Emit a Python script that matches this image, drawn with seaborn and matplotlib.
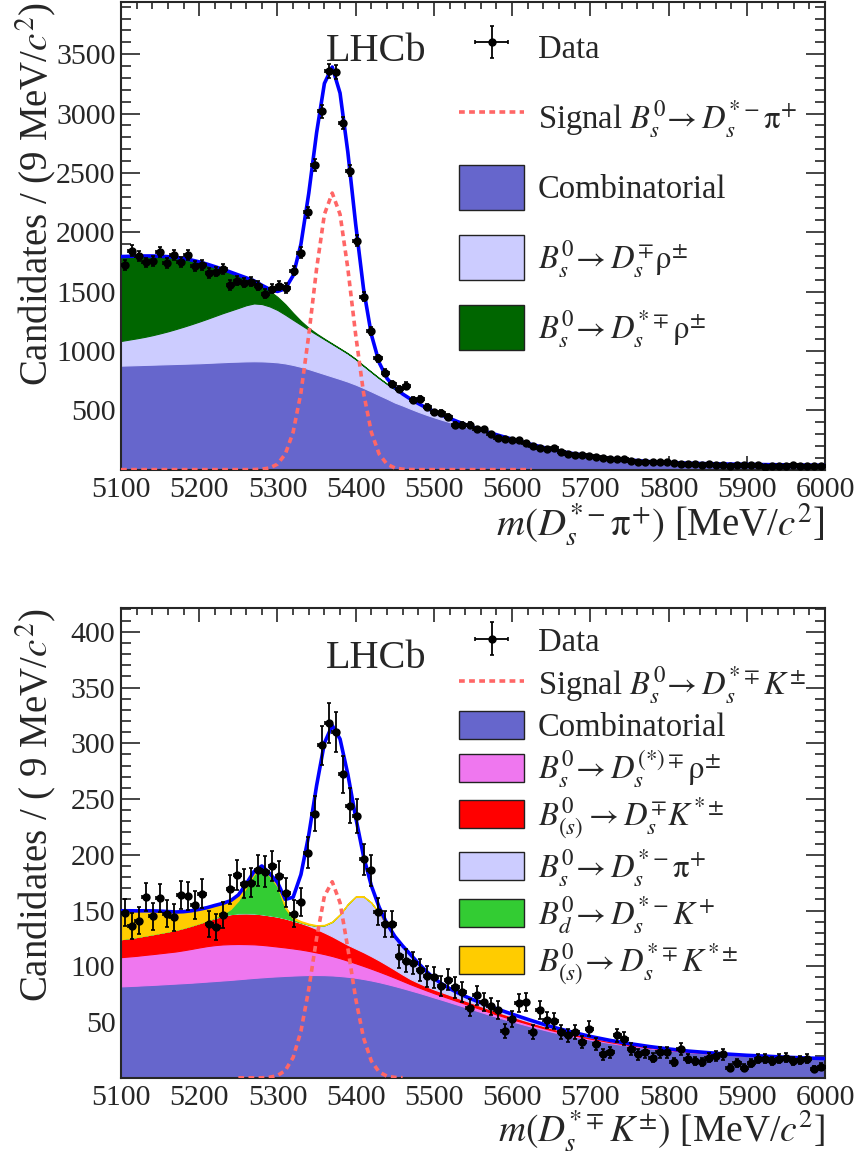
import numpy as np
import matplotlib
matplotlib.use("Agg")
import matplotlib.pyplot as plt
import seaborn as sns
from matplotlib.patches import Patch
from matplotlib.lines import Line2D
from matplotlib.ticker import MultipleLocator

# 9 MeV bins, 5100-6000
bin_centres = np.arange(5104.5, 6000, 9)

top_counts = [1725, 1846, 1801, 1745, 1756, 1832, 1740, 1810, 1753, 1810,
              1719, 1725, 1655, 1669, 1689, 1556, 1593, 1576, 1584, 1551,
              1481, 1525, 1551, 1529, 1677, 1829, 2170, 2563, 3018, 3361,
              3347, 2920, 2520, 1930, 1458, 1171, 938, 817, 722, 677,
              708, 587, 595, 530, 483, 480, 446, 379, 379, 379,
              340, 340, 300, 264, 258, 250, 250, 222, 196, 180,
              174, 180, 151, 129, 123, 123, 115, 109, 95, 87,
              89, 89, 75, 62, 62, 62, 67, 64, 53, 48,
              48, 45, 42, 45, 42, 42, 31, 36, 36, 42,
              42, 25, 31, 31, 34, 36, 31, 28, 28, 28]

bot_counts = [148, 136, 141, 162, 145, 161, 147, 144, 164, 163,
              155, 165, 138, 135, 146, 169, 182, 174, 175, 186,
              185, 190, 181, 166, 147, 158, 202, 237, 298, 318,
              310, 272, 244, 235, 196, 186, 149, 138, 138, 109,
              105, 103, 97, 91, 90, 82, 88, 81, 77, 63,
              74, 68, 64, 61, 42, 53, 67, 68, 41, 61,
              52, 51, 41, 38, 41, 32, 44, 30, 21, 23,
              38, 35, 26, 21, 23, 18, 23, 23, 14, 26,
              17, 15, 14, 18, 20, 21, 9, 13, 9, 13,
              17, 17, 15, 17, 18, 15, 16, 17, 8, 10]

# fit curves: 10 MeV steps up to 5590, then 25 MeV steps
fit_mass = list(range(5100, 5600, 10)) + list(range(5600, 6001, 25))

# --- top panel components ---
top_comb = [876, 878, 880, 882, 884, 886, 888, 890, 892, 894,
            896, 899, 902, 905, 908, 910, 912, 913, 912, 909,
            904, 895, 882, 866, 847, 826, 805, 784, 763, 741,
            716, 688, 658, 627, 597, 565, 540, 513, 487, 463,
            441, 420, 400, 380, 361, 342, 322, 302, 283, 265,
            247, 205, 165, 134, 111, 93, 79, 67, 59, 53, 49, 46, 43, 41, 39, 37, 35]
top_dsrho = [208, 217, 226, 236, 248, 262, 277, 294, 312, 331,
             351, 371, 392, 413, 432, 452, 473, 487, 483, 466,
             441, 410, 380, 354, 331, 312, 293, 274, 255, 236,
             214, 187, 164, 143, 125, 112, 94, 81, 70, 59,
             49, 40, 32, 25, 19, 15, 13, 12, 11, 10,
             10, 7, 5, 4, 3, 2, 2, 1, 1, 1, 1, 1, 1, 1, 1, 1, 1]
top_dsstrho = [711, 702, 693, 682, 668, 650, 629, 604, 575, 541,
               503, 461, 416, 370, 324, 278, 231, 190, 155, 130,
               110, 88, 58, 32, 16, 8, 5, 4, 3, 3,
               2, 1, 1, 1, 1, 1, 0, 0, 0, 0,
               0, 0, 0, 0, 0, 0, 0, 0, 0, 0,
               0, 0, 0, 0, 0, 0, 0, 0, 0, 0, 0, 0, 0, 0, 0, 0, 0]
top_signal = [0, 0, 0, 0, 0, 0, 0, 0, 0, 0,
              0, 0, 0, 0, 0, 0, 0, 0.8, 3.5, 14,
              46, 131, 315, 648, 1134, 1692, 2151, 2330, 2151, 1692,
              1134, 648, 315, 131, 46, 14, 3.5, 0.8, 0, 0,
              0, 0, 0, 0, 0, 0, 0, 0, 0, 0,
              0, 0, 0, 0, 0, 0, 0, 0, 0, 0, 0, 0, 0, 0, 0, 0, 0]

# --- bottom panel components ---
bot_comb = [82.0, 82.3, 82.6, 83.0, 83.3, 83.7, 84.1, 84.5, 84.9, 85.3,
            85.8, 86.3, 86.8, 87.3, 87.8, 88.4, 89.0, 89.6, 90.1, 90.6,
            91.0, 91.4, 91.7, 92.0, 92.2, 92.2, 92.1, 91.8, 91.3, 90.6,
            89.7, 88.6, 87.3, 85.8, 84.1, 82.3, 80.4, 78.4, 76.4, 74.3,
            72.1, 70.0, 67.8, 65.6, 63.4, 61.2, 59.0, 56.8, 54.7, 52.6,
            50.6, 45.8, 41.4, 37.6, 34.2, 31.2, 28.7, 26.5, 24.6, 23.0,
            21.7, 20.6, 19.6, 18.8, 18.1, 17.5, 17.0]
bot_rho = [26.2, 26.5, 26.8, 27.2, 27.6, 28.0, 28.4, 28.8, 29.5, 30.3,
           31.1, 31.8, 32.2, 32.3, 32.1, 31.6, 30.9, 30.1, 29.1, 27.9,
           26.7, 25.5, 24.3, 23.0, 21.6, 20.2, 18.8, 17.4, 15.9, 14.4,
           13.0, 11.7, 10.5, 9.4, 8.4, 7.4, 6.4, 5.5, 4.8, 4.2,
           3.8, 3.5, 3.3, 3.1, 2.9, 2.7, 2.5, 2.3, 2.1, 2.0,
           1.9, 1.6, 1.3, 1.1, 0.9, 0.8, 0.7, 0.6, 0.5, 0.4, 0.4, 0.3, 0.3, 0.3, 0.2, 0.2, 0.2]
bot_dskst = [16.1, 16.5, 16.9, 17.3, 17.8, 18.3, 18.8, 19.4, 20.1, 20.9,
             21.8, 22.9, 24.3, 25.8, 26.9, 27.5, 27.7, 27.7, 27.5, 27.2,
             26.9, 26.1, 25.0, 23.8, 22.5, 21.0, 19.3, 17.6, 15.8, 14.2,
             13.2, 12.3, 11.2, 10.0, 8.6, 7.2, 5.8, 4.6, 4.0, 3.6,
             3.4, 3.3, 3.2, 3.1, 3.0, 2.9, 2.8, 2.7, 2.6, 2.5,
             2.4, 2.1, 1.8, 1.5, 1.2, 1.0, 0.8, 0.6, 0.5, 0.4, 0.3, 0.3, 0.2, 0.2, 0.2, 0.1, 0.1]
bot_dspi = [0, 0, 0, 0, 0, 0, 0, 0, 0, 0,
            0, 0, 0, 0, 0, 0, 0, 0, 0, 0,
            0, 0, 0, 0.3, 1.0, 2.8, 6.5, 13.0, 23.5, 36.5,
            46.5, 50.0, 48.0, 42.5, 35.5, 29.5, 25.5, 22.0, 17.5, 13.5,
            10.0, 7.5, 5.8, 4.6, 3.8, 3.3, 3.0, 2.8, 2.6, 2.4,
            2.2, 1.8, 1.4, 1.1, 0.8, 0.6, 0.5, 0.4, 0.3, 0.2, 0.2, 0.1, 0.1, 0.1, 0, 0, 0]
bot_bdk = [0, 0, 0, 0, 0, 0, 0, 0, 0, 0,
           0, 0, 0.5, 1.5, 4.5, 11.5, 23, 35, 41, 35,
           27, 9, 1.5, 0.4, 0.2, 0.1, 0, 0, 0, 0,
           0, 0, 0, 0, 0, 0, 0, 0, 0, 0,
           0, 0, 0, 0, 0, 0, 0, 0, 0, 0,
           0, 0, 0, 0, 0, 0, 0, 0, 0, 0, 0, 0, 0, 0, 0, 0, 0]
bot_dsstkst = [25.5, 24.5, 23.4, 22.3, 21.0, 19.5, 17.8, 16.0, 14.5, 13.3,
               12.4, 11.6, 10.8, 9.5, 7.5, 5.0, 3.2, 2.6, 2.3, 2.0,
               1.7, 1.4, 1.2, 1.0, 0.8, 0.6, 0.5, 0.4, 0.3, 0.3,
               0.2, 0.2, 0.2, 0.1, 0.1, 0.1, 0.1, 0.1, 0.1, 0.1,
               0, 0, 0, 0, 0, 0, 0, 0, 0, 0,
               0, 0, 0, 0, 0, 0, 0, 0, 0, 0, 0, 0, 0, 0, 0, 0, 0]
bot_signal = [0, 0, 0, 0, 0, 0, 0, 0, 0, 0,
              0, 0, 0, 0, 0, 0, 0, 0, 0, 0.5,
              2.0, 6.6, 18.2, 41.8, 79.5, 125.1, 163.0, 175.8, 157.0, 116.0,
              71.0, 35.9, 15.1, 5.2, 1.5, 0.4, 0.1, 0, 0, 0,
              0, 0, 0, 0, 0, 0, 0, 0, 0, 0,
              0, 0, 0, 0, 0, 0, 0, 0, 0, 0, 0, 0, 0, 0, 0, 0, 0]

top_labels = ["Data",
              r"Signal $B_s^{\mathit{0}}\!\rightarrow D_s^{*-}\mathrm{\pi}^{+}$",
              "Combinatorial",
              r"$B_s^{\mathit{0}}\!\rightarrow D_s^{\mp}\mathrm{\rho}^{\pm}$",
              r"$B_s^{\mathit{0}}\!\rightarrow D_s^{*\mp}\mathrm{\rho}^{\pm}$"]
bot_labels = ["Data",
              r"Signal $B_s^{\mathit{0}}\!\rightarrow D_s^{*\mp}K^{\pm}$",
              "Combinatorial",
              r"$B_s^{\mathit{0}}\!\rightarrow D_s^{(*)\mp}\mathrm{\rho}^{\pm}$",
              r"$B_{(s)}^{\mathit{0}}\rightarrow D_s^{\mp}K^{*\pm}$",
              r"$B_s^{\mathit{0}}\!\rightarrow D_s^{*-}\mathrm{\pi}^{+}$",
              r"$B_d^{\mathit{0}}\!\rightarrow D_s^{*-}K^{+}$",
              r"$B_{(s)}^{\mathit{0}}\!\rightarrow D_s^{*\mp}K^{*\pm}$"]

sns.set_style("ticks")
plt.rcParams['font.family'] = ['Liberation Serif', 'DejaVu Serif']
plt.rcParams['mathtext.fontset'] = 'stix'

COMB = '#6666cc'
LAV = '#ccccff'
DKGREEN = '#006600'
PINK = '#ef77ef'
RED = '#ff0000'
GREEN = '#33cc33'
YELLOW = '#ffcc00'
SIG = '#ff6666'
FIT = '#0000ff'

fig = plt.figure(figsize=(8.56, 11.53), dpi=100)
ax1 = fig.add_axes([0.1414, 0.5927, 0.8224, 0.4056])
ax2 = fig.add_axes([0.1414, 0.0652, 0.8224, 0.4072])

m = np.array(fit_mass)


def draw_panel(ax, comps, colors, signal, sig_range, counts, ymax, ylabel,
               xlabel, xlabel_y, xlabel_size, labels, leg_anchor,
               handleheight, labelspacing):
    polys = ax.stackplot(m, *comps, colors=colors, linewidth=0.8)
    for p, c in zip(polys, colors):
        p.set_edgecolor(c)
    total = np.sum(np.array(comps), axis=0) + np.array(signal)
    sel = (m >= sig_range[0]) & (m <= sig_range[1])
    ax.plot(m[sel], np.array(signal)[sel], color=SIG, lw=2.6,
            linestyle=(0, (1.6, 1.2)), zorder=3)
    sns.lineplot(x=m, y=total, ax=ax, color=FIT, lw=2.6, zorder=4)
    c = np.array(counts)
    data_h = ax.errorbar(bin_centres, c, yerr=np.sqrt(c), xerr=4.5, fmt='o',
                         color='black', ms=5, elinewidth=1.3, capsize=1.5,
                         capthick=1.2, zorder=5)

    ax.set_xlim(5100, 6000)
    ax.set_ylim(0, ymax)
    ax.xaxis.set_major_locator(MultipleLocator(100))
    ax.xaxis.set_minor_locator(MultipleLocator(20))
    ax.tick_params(which='both', direction='in', top=True, right=True,
                   labelsize=21.5, width=1.2)
    ax.tick_params(axis='x', which='major', length=10, pad=5)
    ax.tick_params(axis='x', which='minor', length=5)
    ax.tick_params(axis='y', which='major', length=14, pad=4)
    ax.tick_params(axis='y', which='minor', length=7)
    for s in ax.spines.values():
        s.set_linewidth(1.5)
        s.set_visible(True)

    ax.set_ylabel(ylabel, fontsize=28, loc='top', va='center')
    ax.yaxis.set_label_coords(-0.122, 1.0)
    ax.set_xlabel(xlabel, fontsize=xlabel_size, ha='right', va='center')
    ax.xaxis.set_label_coords(1.0, xlabel_y)

    ax.text(0.291, 0.873, "LHCb", transform=ax.transAxes, fontsize=29,
            va='baseline', ha='left')

    handles = [data_h,
               Line2D([], [], color=SIG, lw=2.6, linestyle=(0, (1.6, 1.2)))]
    handles += [Patch(facecolor=col, edgecolor='#222222', linewidth=1.0)
                for col in colors]
    ax.legend(handles, labels, loc='upper left', bbox_to_anchor=leg_anchor,
              frameon=False, fontsize=23.5, borderpad=0, borderaxespad=0,
              handlelength=2.0, handleheight=handleheight,
              handletextpad=0.42, labelspacing=labelspacing)


draw_panel(ax1, [top_comb, top_dsrho, top_dsstrho], [COMB, LAV, DKGREEN],
           top_signal, (5100, 5625), top_counts, 3940,
           r"Candidates / (9 MeV/$c^2$)",
           r"$m(D_s^{*-}\mathrm{\pi}^{+})$ [MeV/$c^2$]", -0.117, 28,
           top_labels, (0.48, 0.95), 1.75, 0.76)
ax1.set_yticks([500, 1000, 1500, 2000, 2500, 3000, 3500])
ax1.yaxis.set_minor_locator(MultipleLocator(100))

draw_panel(ax2, [bot_comb, bot_rho, bot_dskst, bot_dspi, bot_bdk, bot_dsstkst],
           [COMB, PINK, RED, LAV, GREEN, YELLOW],
           bot_signal, (5250, 5460), bot_counts, 421,
           r"Candidates / ( 9 MeV/$c^2$)",
           r"$m(D_s^{*\mp}K^{\pm})$ [MeV/$c^2$]", -0.112, 27,
           bot_labels, (0.48, 0.962), 0.94, 0.17)
ax2.set_yticks([50, 100, 150, 200, 250, 300, 350, 400])
ax2.yaxis.set_minor_locator(MultipleLocator(10))

fig.savefig("out.png", dpi=100)
